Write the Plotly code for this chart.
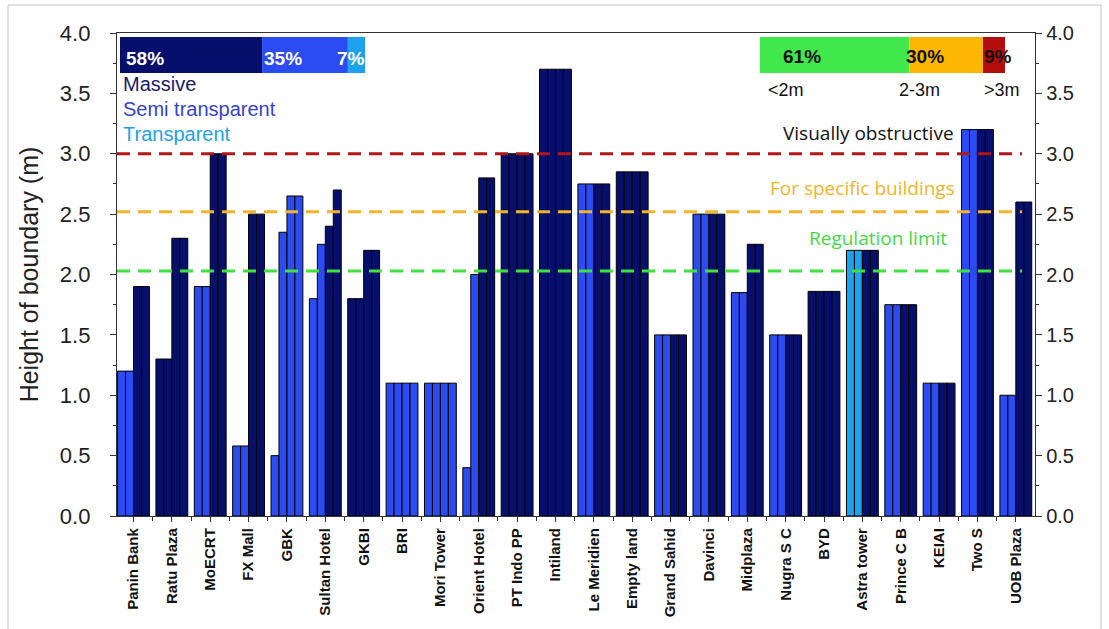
import plotly.graph_objects as go

categories = ["Panin Bank", "Ratu Plaza", "MoECRT", "FX Mall", "GBK", "Sultan Hotel", "GKBI",
              "BRI", "Mori Tower", "Orient Hotel", "PT Indo PP", "Intiland", "Le Meridien",
              "Empty land", "Grand Sahid", "Davinci", "Midplaza", "Nugra S C", "BYD",
              "Astra tower", "Prince C B", "KEIAI", "Two S", "UOB Plaza"]

# heights of the four sub-bars of each building (m)
h1 = [1.2, 1.3, 1.9, 0.58, 0.5, 1.8, 1.8, 1.1, 1.1, 0.4, 3.0, 3.7, 2.75, 2.85, 1.5, 2.5, 1.85, 1.5, 1.86, 2.2, 1.75, 1.1, 3.2, 1.0]
h2 = [1.2, 1.3, 1.9, 0.58, 2.35, 2.25, 1.8, 1.1, 1.1, 2.0, 3.0, 3.7, 2.75, 2.85, 1.5, 2.5, 1.85, 1.5, 1.86, 2.2, 1.75, 1.1, 3.2, 1.0]
h3 = [1.9, 2.3, 3.0, 2.5, 2.65, 2.4, 2.2, 1.1, 1.1, 2.8, 3.0, 3.7, 2.75, 2.85, 1.5, 2.5, 2.25, 1.5, 1.86, 2.2, 1.75, 1.1, 3.2, 2.6]
h4 = [1.9, 2.3, 3.0, 2.5, 2.65, 2.7, 2.2, 1.1, 1.1, 2.8, 3.0, 3.7, 2.75, 2.85, 1.5, 2.5, 2.25, 1.5, 1.86, 2.2, 1.75, 1.1, 3.2, 2.6]

# boundary type of each sub-bar: M = massive, S = semi transparent, T = transparent
t1 = ["S", "M", "S", "S", "S", "S", "M", "S", "S", "S", "M", "M", "S", "M", "S", "S", "S", "S", "M", "T", "S", "S", "S", "S"]
t2 = t1[:]
t3 = ["M", "M", "M", "M", "S", "M", "M", "S", "S", "M", "M", "M", "M", "M", "M", "M", "M", "M", "M", "M", "M", "M", "M", "M"]
t4 = t3[:]

type_names = ["Massive", "Semi transparent", "Transparent"]
type_share = [58, 35, 7]          # Massive, Semi transparent, Transparent (%)
height_share = [61, 30, 9]        # <2m, 2-3m, >3m (%)
height_classes = ["<2m", "2-3m", ">3m"]

limits = [3.0, 2.52, 2.03]
limit_names = ["Visually obstructive", "For specific buildings", "Regulation limit"]

type_colors = {"M": "#06106c", "S": "#2a4cf2", "T": "#1ea2ee"}
type_text_colors = ["#1a1a6a", "#3344cc", "#22a2e2"]
share_colors = ["#41e84c", "#fdb700", "#b20e0e"]
limit_colors = ["#b01818", "#f2b42a", "#3fe040"]
limit_text_colors = ["#111111", "#f0b429", "#46d846"]

W, H = 1109, 629
L, R, T, B = 117, 1035, 33, 516


def px(x):
    return (x - L) / (R - L)


def py(y):
    return (B - y) / (B - T)


xs = list(range(len(categories)))
fig = go.Figure()
for hs, ts in [(h1, t1), (h2, t2), (h3, t3), (h4, t4)]:
    fig.add_trace(go.Bar(
        x=xs, y=hs,
        marker=dict(color=[type_colors[t] for t in ts], line=dict(color="#000000", width=1)),
        showlegend=False, hoverinfo="y"))

# invisible trace for right axis
fig.add_trace(go.Scatter(x=[0], y=[0], yaxis="y2", mode="markers",
                         marker=dict(opacity=0), showlegend=False, hoverinfo="skip"))

shapes = []
annotations = []

# dashed limit lines
for v, c in zip(limits, limit_colors):
    shapes.append(dict(type="line", xref="paper", yref="y", x0=0, x1=px(1022), y0=v, y1=v,
                       line=dict(color=c, width=3, dash="13px,8px"), layer="above"))

# limit labels
label_pos = [(956, 133), (957, 188), (949, 238)]
for name, col, (x, y) in zip(limit_names, limit_text_colors, label_pos):
    annotations.append(dict(text=name, xref="paper", yref="paper", x=px(x), y=py(y),
                            xanchor="right", yanchor="middle", showarrow=False,
                            font=dict(family="Open Sans", size=19, color=col)))

# type share box (top left)
box_l, box_w, box_t, box_b = 120, 245, 37, 73
x = box_l
for share, key in zip(type_share, ["M", "S", "T"]):
    w = box_w * share / 100
    shapes.append(dict(type="rect", xref="paper", yref="paper", x0=px(x), x1=px(x + w),
                       y0=py(box_b), y1=py(box_t), fillcolor=type_colors[key], line=dict(width=0),
                       layer="above"))
    x += w
type_label_x = [124, 262, 367]
type_label_anchor = ["left", "left", "right"]
for share, lx, an in zip(type_share, type_label_x, type_label_anchor):
    annotations.append(dict(text="<b>%d%%</b>" % share, xref="paper", yref="paper", x=px(lx), y=py(58),
                            xanchor=an, yanchor="middle", showarrow=False,
                            font=dict(family="Liberation Sans", size=19, color="#ffffff")))
for name, col, y in zip(type_names, type_text_colors, [84, 109, 134]):
    annotations.append(dict(text=name, xref="paper", yref="paper", x=px(121), y=py(y),
                            xanchor="left", yanchor="middle", showarrow=False,
                            font=dict(family="Liberation Sans", size=20, color=col)))

# height share box (top right)
box_l2 = 760
x = box_l2
for share, col in zip(height_share, share_colors):
    w = box_w * share / 100
    shapes.append(dict(type="rect", xref="paper", yref="paper", x0=px(x), x1=px(x + w),
                       y0=py(box_b), y1=py(box_t), fillcolor=col, line=dict(width=0), layer="above"))
    x += w
share_label_x = [781, 904, 982]
for share, lx in zip(height_share, share_label_x):
    annotations.append(dict(text="<b>%d%%</b>" % share, xref="paper", yref="paper", x=px(lx), y=py(56),
                            xanchor="left", yanchor="middle", showarrow=False,
                            font=dict(family="Liberation Sans", size=19, color="#111111")))
for name, lx in zip(height_classes, [766, 897, 982]):
    annotations.append(dict(text=name, xref="paper", yref="paper", x=px(lx), y=py(90),
                            xanchor="left", yanchor="middle", showarrow=False,
                            font=dict(family="Liberation Sans", size=18, color="#111111")))

# light outer frame
frame_col = "#d8d8d8"
shapes.append(dict(type="line", xref="paper", yref="paper", x0=px(8), x1=px(1101), y0=py(5), y1=py(5),
                   line=dict(color=frame_col, width=1.5)))
shapes.append(dict(type="line", xref="paper", yref="paper", x0=px(8), x1=px(8), y0=py(5), y1=py(640),
                   line=dict(color=frame_col, width=1.5)))
shapes.append(dict(type="line", xref="paper", yref="paper", x0=px(1101), x1=px(1101), y0=py(5), y1=py(640),
                   line=dict(color=frame_col, width=1.5)))

yaxis_common = dict(range=[0, 4.0], tickvals=[0, 0.5, 1, 1.5, 2, 2.5, 3, 3.5, 4], tickformat=".1f",
                    ticks="outside", ticklen=6, tickwidth=1.2, tickcolor="#333333",
                    showline=True, linecolor="#333333", linewidth=1.3, showgrid=False, zeroline=False,
                    minor=dict(tickvals=[0.25, 0.75, 1.25, 1.75, 2.25, 2.75, 3.25, 3.75],
                               ticks="outside", ticklen=3, tickwidth=1, tickcolor="#333333"))

fig.update_layout(
    width=W, height=H,
    margin=dict(l=L, r=W - R, t=T, b=H - B, autoexpand=False),
    paper_bgcolor="#ffffff", plot_bgcolor="#ffffff",
    barmode="group", bargap=0.17, bargroupgap=0,
    xaxis=dict(range=[-0.43, 23.5], tickvals=xs, ticktext=["<b>%s</b>" % c for c in categories],
               tickangle=-90, ticks="outside", ticklen=5, tickwidth=1, tickcolor="#333333",
               showline=True, linecolor="#333333", linewidth=1.3, mirror=True, showgrid=False,
               zeroline=False, tickfont=dict(family="Liberation Sans", size=15, color="#111111"),
               minor=dict(tickvals=[i + 0.5 for i in xs[:-1]], ticks="outside", ticklen=4,
                          tickwidth=1, tickcolor="#333333")),
    yaxis=dict(title=dict(text="Height of boundary (m)",
                          font=dict(family="Liberation Sans", size=25, color="#222222"), standoff=14),
               tickfont=dict(family="Liberation Sans", size=22, color="#222222"),
               ticklabelstandoff=15,
               **yaxis_common),
    yaxis2=dict(overlaying="y", side="right",
                tickfont=dict(family="Liberation Sans", size=20, color="#222222"),
                **yaxis_common),
    shapes=shapes, annotations=annotations,
)

fig.write_html("out.html")
